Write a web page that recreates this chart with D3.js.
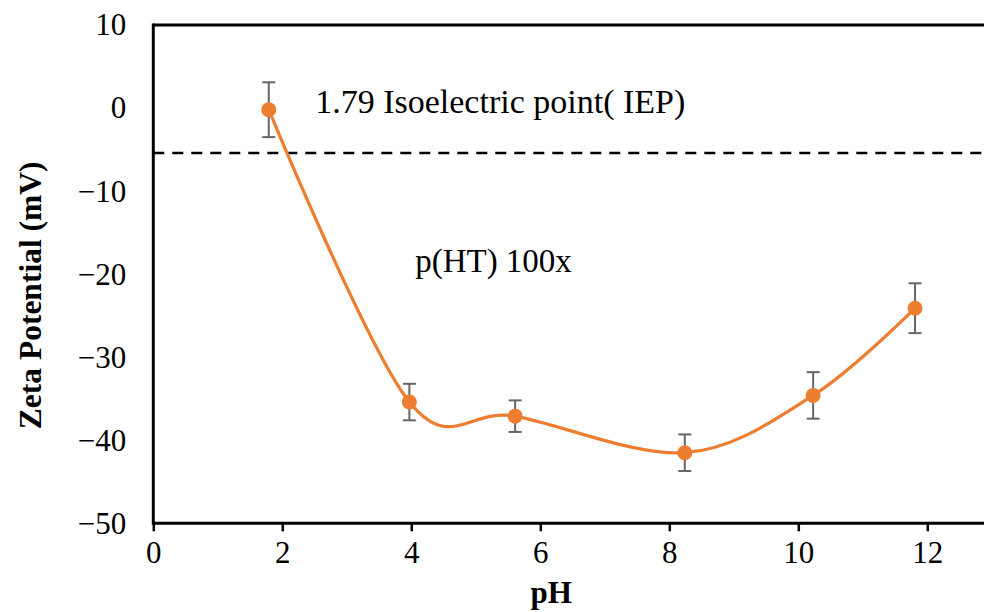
<!DOCTYPE html>
<html>
<head>
<meta charset="utf-8">
<script src="https://cdn.jsdelivr.net/npm/d3@7"></script>
<style>
  html, body { margin: 0; padding: 0; background: #fff; }
  svg { display: block; }
  text { font-family: "Liberation Serif", "Times New Roman", serif; fill: #000; }
</style>
</head>
<body>
<svg id="chart" width="984" height="612"></svg>
<script>
// ---- data ----
const pH = [1.79, 3.97, 5.61, 8.24, 10.23, 11.81];
const zeta = [-0.2, -35.4, -37.1, -41.5, -34.6, -24.1];
const zetaErr = [3.3, 2.2, 1.9, 2.2, 2.8, 3.0];
const xTicks = [0, 2, 4, 6, 8, 10, 12];
const yTicks = [10, 0, -10, -20, -30, -40, -50];
const iepLevel = -5.4;
const xTitle = "pH";
const yTitle = "Zeta Potential (mV)";
const annotations = [
  { text: "1.79 Isoelectric point( IEP)", x: 2.51, y: -0.6, size: 34 },
  { text: "p(HT) 100x", x: 4.06, y: -19.7, size: 33 }
];

// ---- layout ----
const W = 984, H = 612;
const x0 = 153.3, pxPerUnitX = 64.5;
const svg = d3.select("#chart");
const x = d3.scaleLinear().domain([0, 14]).range([x0, x0 + 14 * pxPerUnitX]);
const y = d3.scaleLinear().domain([-50, 10]).range([523.3, 25]);

const orange = "#ED7D31";

// top frame line
svg.append("line")
  .attr("x1", x(0)).attr("x2", W)
  .attr("y1", y(10)).attr("y2", y(10))
  .attr("stroke", "#000").attr("stroke-width", 3);

// dashed IEP line
svg.append("line")
  .attr("x1", x(0)).attr("x2", W)
  .attr("y1", y(iepLevel)).attr("y2", y(iepLevel))
  .attr("stroke", "#000").attr("stroke-width", 2.5)
  .attr("stroke-dasharray", "11,8");

// x axis
const xAxis = svg.append("g")
  .attr("transform", `translate(0,${y(-50)})`)
  .call(d3.axisBottom(x).tickValues(xTicks).tickSize(8).tickPadding(10).tickFormat(d3.format("d")));
xAxis.select(".domain").attr("stroke", "#000").attr("stroke-width", 3)
  .attr("d", `M${x(0)},0H${W + 5}`);
xAxis.selectAll(".tick line").attr("stroke", "#000").attr("stroke-width", 2.5);
xAxis.selectAll(".tick text")
  .style("font-family", '"Liberation Serif", serif')
  .style("font-size", "31px").attr("fill", "#000");

// y axis
const fmtY = d => (d < 0 ? "\u2212" + Math.abs(d) : String(d));
const yAxis = svg.append("g")
  .attr("transform", `translate(${x(0)},0)`)
  .call(d3.axisLeft(y).tickValues(yTicks).tickSize(0).tickPadding(27).tickFormat(fmtY));
yAxis.select(".domain").attr("stroke", "#000").attr("stroke-width", 3)
  .attr("d", `M0,${y(10) - 1.5}V${y(-50) + 1.5}`);
yAxis.selectAll(".tick text")
  .style("font-family", '"Liberation Serif", serif')
  .style("font-size", "31px").attr("fill", "#000");

// axis titles
svg.append("text")
  .attr("x", x(6.17)).attr("y", 603)
  .attr("text-anchor", "middle")
  .style("font-size", "31px").style("font-weight", "bold")
  .text(xTitle);
svg.append("text")
  .attr("transform", `translate(41,${(160.7 + 430) / 2}) rotate(-90)`)
  .attr("text-anchor", "middle")
  .style("font-size", "31.5px").style("font-weight", "bold")
  .text(yTitle);

// data series
const pts = pH.map((v, i) => ({ x: v, y: zeta[i], e: zetaErr[i] }));

const line = d3.line().x(d => x(d.x)).y(d => y(d.y)).curve(d3.curveCardinal.tension(0));
svg.append("path")
  .datum(pts)
  .attr("d", line)
  .attr("fill", "none")
  .attr("stroke", orange)
  .attr("stroke-width", 3.2);

// error bars
const eb = svg.append("g").attr("stroke", "#666").attr("stroke-width", 2).attr("fill", "none");
pts.forEach(d => {
  eb.append("line").attr("x1", x(d.x)).attr("x2", x(d.x)).attr("y1", y(d.y + d.e)).attr("y2", y(d.y - d.e));
  eb.append("line").attr("x1", x(d.x) - 6.5).attr("x2", x(d.x) + 6.5).attr("y1", y(d.y + d.e)).attr("y2", y(d.y + d.e));
  eb.append("line").attr("x1", x(d.x) - 6.5).attr("x2", x(d.x) + 6.5).attr("y1", y(d.y - d.e)).attr("y2", y(d.y - d.e));
});

// markers
svg.append("g").selectAll("circle")
  .data(pts).join("circle")
  .attr("cx", d => x(d.x)).attr("cy", d => y(d.y))
  .attr("r", 7.5).attr("fill", orange);

// annotations
svg.append("g").selectAll("text")
  .data(annotations).join("text")
  .attr("x", d => x(d.x)).attr("y", d => y(d.y))
  .style("font-size", d => d.size + "px")
  .text(d => d.text);
</script>
</body>
</html>
